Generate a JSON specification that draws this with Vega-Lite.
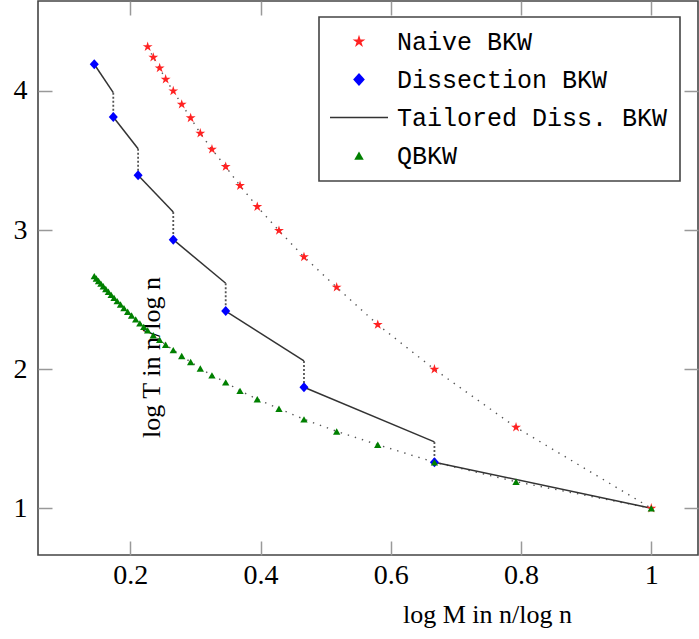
{
  "$schema": "https://vega.github.io/schema/vega-lite/v6.json",
  "autosize": "none",
  "width": 660,
  "height": 554,
  "padding": {"left": 38, "top": 1, "right": 1, "bottom": 84},
  "background": "white",
  "config": {
    "view": {"stroke": "#444444", "strokeWidth": 1.6},
    "axis": {"grid": false, "domain": false}
  },
  "datasets": {
    "pts": [
      {"series": "Naive BKW", "x": 0.2267, "y": 4.318},
      {"series": "Naive BKW", "x": 0.2353, "y": 4.242},
      {"series": "Naive BKW", "x": 0.2451, "y": 4.165},
      {"series": "Naive BKW", "x": 0.2543, "y": 4.084},
      {"series": "Naive BKW", "x": 0.266, "y": 4.0},
      {"series": "Naive BKW", "x": 0.279, "y": 3.904},
      {"series": "Naive BKW", "x": 0.2927, "y": 3.806},
      {"series": "Naive BKW", "x": 0.3075, "y": 3.696},
      {"series": "Naive BKW", "x": 0.3254, "y": 3.581},
      {"series": "Naive BKW", "x": 0.3465, "y": 3.456},
      {"series": "Naive BKW", "x": 0.3685, "y": 3.319},
      {"series": "Naive BKW", "x": 0.395, "y": 3.168},
      {"series": "Naive BKW", "x": 0.4283, "y": 2.996},
      {"series": "Naive BKW", "x": 0.4667, "y": 2.807},
      {"series": "Naive BKW", "x": 0.5169, "y": 2.589},
      {"series": "Naive BKW", "x": 0.58, "y": 2.32},
      {"series": "Naive BKW", "x": 0.667, "y": 1.999},
      {"series": "Naive BKW", "x": 0.7923, "y": 1.582},
      {"series": "Naive BKW", "x": 1, "y": 1},
      {"series": "Dissection BKW", "x": 0.1447, "y": 4.192},
      {"series": "Dissection BKW", "x": 0.1739, "y": 3.813},
      {"series": "Dissection BKW", "x": 0.212, "y": 3.394},
      {"series": "Dissection BKW", "x": 0.266, "y": 2.931},
      {"series": "Dissection BKW", "x": 0.3465, "y": 2.418},
      {"series": "Dissection BKW", "x": 0.4667, "y": 1.87},
      {"series": "Dissection BKW", "x": 0.667, "y": 1.331},
      {"series": "QBKW", "x": 0.1447, "y": 2.67},
      {"series": "QBKW", "x": 0.1479, "y": 2.653},
      {"series": "QBKW", "x": 0.1513, "y": 2.635},
      {"series": "QBKW", "x": 0.1549, "y": 2.616},
      {"series": "QBKW", "x": 0.1585, "y": 2.597},
      {"series": "QBKW", "x": 0.1624, "y": 2.577},
      {"series": "QBKW", "x": 0.1664, "y": 2.557},
      {"series": "QBKW", "x": 0.1707, "y": 2.535},
      {"series": "QBKW", "x": 0.1751, "y": 2.513},
      {"series": "QBKW", "x": 0.1799, "y": 2.49},
      {"series": "QBKW", "x": 0.185, "y": 2.466},
      {"series": "QBKW", "x": 0.1903, "y": 2.44},
      {"series": "QBKW", "x": 0.196, "y": 2.414},
      {"series": "QBKW", "x": 0.202, "y": 2.387},
      {"series": "QBKW", "x": 0.2083, "y": 2.359},
      {"series": "QBKW", "x": 0.2147, "y": 2.33},
      {"series": "QBKW", "x": 0.2207, "y": 2.305},
      {"series": "QBKW", "x": 0.2267, "y": 2.28},
      {"series": "QBKW", "x": 0.2353, "y": 2.245},
      {"series": "QBKW", "x": 0.2451, "y": 2.211},
      {"series": "QBKW", "x": 0.2543, "y": 2.176},
      {"series": "QBKW", "x": 0.266, "y": 2.138},
      {"series": "QBKW", "x": 0.279, "y": 2.095},
      {"series": "QBKW", "x": 0.2927, "y": 2.052},
      {"series": "QBKW", "x": 0.3075, "y": 2.006},
      {"series": "QBKW", "x": 0.3254, "y": 1.956},
      {"series": "QBKW", "x": 0.3465, "y": 1.906},
      {"series": "QBKW", "x": 0.3685, "y": 1.845},
      {"series": "QBKW", "x": 0.395, "y": 1.784},
      {"series": "QBKW", "x": 0.4283, "y": 1.716},
      {"series": "QBKW", "x": 0.4667, "y": 1.64},
      {"series": "QBKW", "x": 0.5169, "y": 1.553},
      {"series": "QBKW", "x": 0.58, "y": 1.457},
      {"series": "QBKW", "x": 0.667, "y": 1.331},
      {"series": "QBKW", "x": 0.7923, "y": 1.191},
      {"series": "QBKW", "x": 1, "y": 1}
    ],
    "tail": [
      {"seg": 1, "x": 0.1447, "y": 4.192}, {"seg": 1, "x": 0.1739, "y": 3.988},
      {"seg": 2, "x": 0.1739, "y": 3.813}, {"seg": 2, "x": 0.212, "y": 3.585},
      {"seg": 3, "x": 0.212, "y": 3.394}, {"seg": 3, "x": 0.266, "y": 3.13},
      {"seg": 4, "x": 0.266, "y": 2.931}, {"seg": 4, "x": 0.3465, "y": 2.618},
      {"seg": 5, "x": 0.3465, "y": 2.418}, {"seg": 5, "x": 0.4667, "y": 2.059},
      {"seg": 6, "x": 0.4667, "y": 1.87}, {"seg": 6, "x": 0.667, "y": 1.477},
      {"seg": 7, "x": 0.667, "y": 1.331}, {"seg": 7, "x": 1, "y": 1}
    ],
    "drops": [
      {"x": 0.1739, "y": 3.988, "y2": 3.813},
      {"x": 0.212, "y": 3.585, "y2": 3.394},
      {"x": 0.266, "y": 3.13, "y2": 2.931},
      {"x": 0.3465, "y": 2.618, "y2": 2.418},
      {"x": 0.4667, "y": 2.059, "y2": 1.87},
      {"x": 0.667, "y": 1.477, "y2": 1.331}
    ]
  },
  "resolve": {"axis": {"x": "independent", "y": "independent"}},
  "layer": [
    {
      "data": {"name": "pts"},
      "transform": [{"filter": "datum.series === 'Naive BKW'"}],
      "mark": {"type": "line", "color": "#555555", "strokeWidth": 1.4, "strokeDash": [1.4, 6]},
      "encoding": {
        "x": {"field": "x", "type": "quantitative",
          "scale": {"domain": [0.0583, 1.0717], "nice": false, "zero": false},
          "axis": {"orient": "bottom", "values": [0.2, 0.4, 0.6, 0.8, 1], "format": "~g", "ticks": false,
            "labelFont": "Liberation Serif", "labelFontSize": 28, "labelColor": "#000000", "labelPadding": 6,
            "title": "log M in n/log n", "titleFont": "Liberation Serif", "titleFontSize": 26, "titleFontWeight": "normal",
            "titleColor": "#000000", "titleX": 449, "titleY": 67, "titleAlign": "center", "titleBaseline": "alphabetic"}},
        "y": {"field": "y", "type": "quantitative",
          "scale": {"domain": [0.664, 4.647], "nice": false, "zero": false},
          "axis": {"orient": "left", "values": [1, 2, 3, 4], "format": "~g", "ticks": false,
            "labelFont": "Liberation Serif", "labelFontSize": 28, "labelColor": "#000000", "labelPadding": 11,
            "title": "log T in n/log n", "titleFont": "Liberation Serif", "titleFontSize": 26, "titleFontWeight": "normal",
            "titleColor": "#000000", "titleX": 121, "titleY": 356, "titleAngle": -90, "titleAlign": "center", "titleBaseline": "alphabetic"}}
      }
    },
    {
      "data": {"name": "pts"},
      "transform": [{"filter": "datum.series === 'QBKW'"}],
      "mark": {"type": "line", "color": "#555555", "strokeWidth": 1.4, "strokeDash": [1.4, 6]},
      "encoding": {
        "x": {"field": "x", "type": "quantitative",
          "scale": {"domain": [0.0583, 1.0717], "nice": false, "zero": false},
          "axis": {"orient": "bottom", "values": [0.2, 0.4, 0.6, 0.8, 1], "labels": false, "ticks": true,
            "tickSize": -14, "tickColor": "#999999", "tickWidth": 1.5, "title": null}},
        "y": {"field": "y", "type": "quantitative",
          "scale": {"domain": [0.664, 4.647], "nice": false, "zero": false},
          "axis": {"orient": "left", "values": [1, 2, 3, 4], "labels": false, "ticks": true,
            "tickSize": -14, "tickColor": "#999999", "tickWidth": 1.5, "title": null}}
      }
    },
    {
      "data": {"name": "tail"},
      "mark": {"type": "line", "color": "#333333", "strokeWidth": 1.5},
      "encoding": {
        "detail": {"field": "seg", "type": "nominal"},
        "x": {"field": "x", "type": "quantitative",
          "scale": {"domain": [0.0583, 1.0717], "nice": false, "zero": false},
          "axis": {"orient": "top", "values": [0.2, 0.4, 0.6, 0.8, 1], "labels": false, "ticks": true,
            "tickSize": -14, "tickColor": "#999999", "tickWidth": 1.5, "title": null}},
        "y": {"field": "y", "type": "quantitative",
          "scale": {"domain": [0.664, 4.647], "nice": false, "zero": false},
          "axis": {"orient": "right", "values": [1, 2, 3, 4], "labels": false, "ticks": true,
            "tickSize": -14, "tickColor": "#999999", "tickWidth": 1.5, "title": null}}
      }
    },
    {
      "data": {"name": "drops"},
      "mark": {"type": "rule", "color": "#555555", "strokeWidth": 1.8, "strokeDash": [2, 2]},
      "encoding": {
        "x": {"field": "x", "type": "quantitative", "scale": {"domain": [0.0583, 1.0717], "nice": false, "zero": false}, "axis": null},
        "y": {"field": "y", "type": "quantitative", "scale": {"domain": [0.664, 4.647], "nice": false, "zero": false}, "axis": null},
        "y2": {"field": "y2"}
      }
    },
    {
      "data": {"name": "pts"},
      "mark": {"type": "point", "filled": true, "opacity": 1, "size": 60},
      "encoding": {
        "x": {"field": "x", "type": "quantitative", "scale": {"domain": [0.0583, 1.0717], "nice": false, "zero": false}, "axis": null},
        "y": {"field": "y", "type": "quantitative", "scale": {"domain": [0.664, 4.647], "nice": false, "zero": false}, "axis": null},
        "color": {"field": "series", "type": "nominal",
          "scale": {"domain": ["Naive BKW", "Dissection BKW", "Tailored Diss. BKW", "QBKW"],
                    "range": ["#ff2222", "#0000ff", "#333333", "#008000"]},
          "legend": {"title": null, "orient": "none", "legendX": 281, "legendY": 16,
            "padding": 12, "strokeColor": "#444444", "fillColor": "#ffffff",
            "labelFont": "Liberation Mono", "labelFontSize": 25, "labelColor": "#000000", "labelLimit": 400,
            "symbolSize": 100, "symbolOffset": 15.5, "labelOffset": 25.5, "rowPadding": 12, "symbolOpacity": 1,
            "encode": {
              "legend": {"update": {"strokeWidth": {"value": 1.6}}},
              "symbols": {"update": {
                "stroke": {"signal": "datum.value === 'Tailored Diss. BKW' ? '#333333' : 'transparent'"},
                "strokeWidth": {"value": 1.6}}}
            }}},
        "shape": {"field": "series", "type": "nominal",
          "scale": {"domain": ["Naive BKW", "Dissection BKW", "Tailored Diss. BKW", "QBKW"],
                    "range": ["M0,-1.34L0.3008,-0.4141L1.2745,-0.4141L0.4868,0.1581L0.7877,1.0841L0,0.5119L-0.7877,1.0841L-0.4868,0.1581L-1.2745,-0.4141L-0.3008,-0.4141Z",
                              "M0,-1.3L1.17,0L0,1.3L-1.17,0Z", "M-5.8,0L5.8,0", "M0,-0.8L0.95,0.85L-0.95,0.85Z"]}}
      }
    }
  ]
}
